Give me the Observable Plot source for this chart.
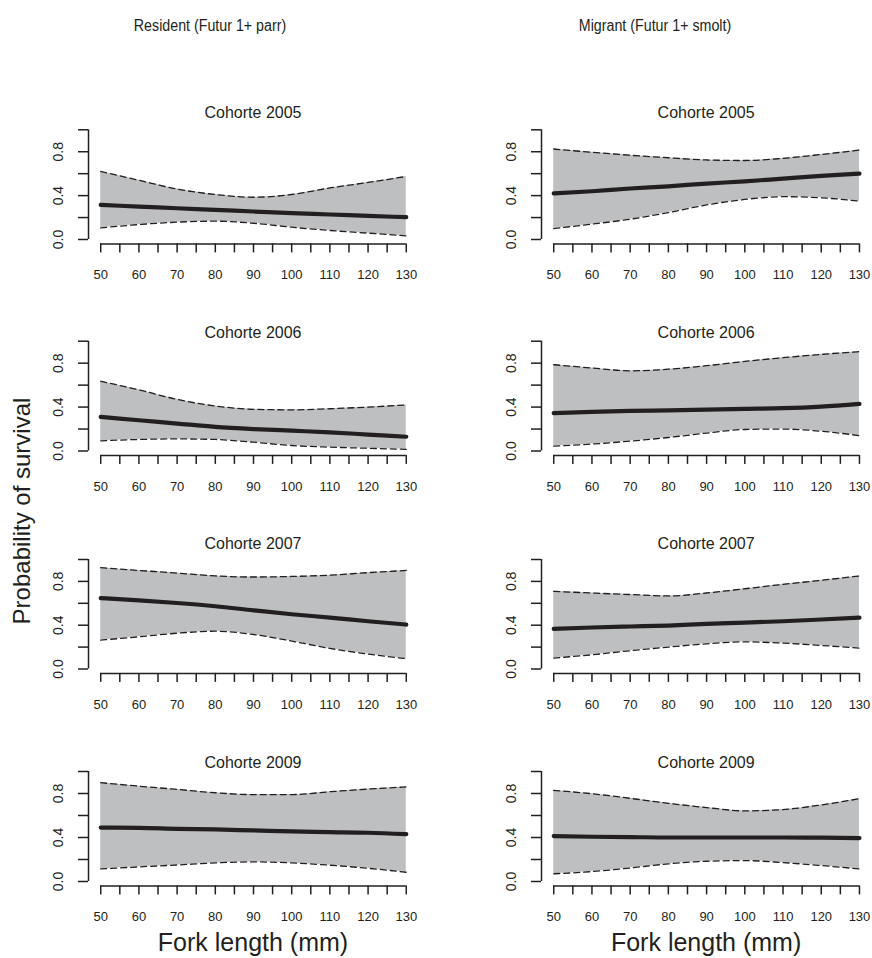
<!DOCTYPE html>
<html><head><meta charset="utf-8">
<script src="https://cdn.jsdelivr.net/npm/d3@7"></script>
<script src="https://cdn.jsdelivr.net/npm/@observablehq/plot@0.6"></script>
<style>
body{margin:0;background:#fff;}
#fig{position:relative;width:872px;height:958px;font-family:"Liberation Sans",Arial,Helvetica,sans-serif;color:#231f20;overflow:hidden;background:#fff}
.lbl{position:absolute;white-space:nowrap;transform:translate(-50%,-50%);line-height:1}
</style></head><body><div id="fig"></div>
<script>
// ---------- data ----------
const forkLength = [50, 60, 70, 80, 90, 100, 110, 120, 130];
const cohorts = ["2005", "2006", "2007", "2009"];
const groupTitles = ["Resident (Futur 1+ parr)", "Migrant (Futur 1+ smolt)"];
const xTicks = [50, 55, 60, 65, 70, 75, 80, 85, 90, 95, 100, 105, 110, 115, 120, 125, 130];
const xTickLabels = [50, 60, 70, 80, 90, 100, 110, 120, 130];
const yTicks = [0, 0.2, 0.4, 0.6, 0.8, 1.0];
const yLabelValues = [0, 0.4, 0.8];
const yTickLabels = ["0.0", "0.4", "0.8"];
const xAxisTitle = "Fork length (mm)";
const yAxisTitle = "Probability of survival";

const resident2005Upper = [0.62, 0.54, 0.46, 0.41, 0.385, 0.41, 0.47, 0.52, 0.575];
const resident2005Mean  = [0.315, 0.30, 0.285, 0.27, 0.255, 0.24, 0.228, 0.215, 0.203];
const resident2005Lower = [0.106, 0.136, 0.158, 0.167, 0.148, 0.112, 0.082, 0.058, 0.033];

const migrant2005Upper = [0.825, 0.795, 0.768, 0.745, 0.725, 0.72, 0.74, 0.775, 0.815];
const migrant2005Mean  = [0.42, 0.44, 0.465, 0.485, 0.51, 0.53, 0.555, 0.58, 0.60];
const migrant2005Lower = [0.10, 0.14, 0.185, 0.245, 0.315, 0.365, 0.39, 0.38, 0.35];

const resident2006Upper = [0.635, 0.557, 0.47, 0.41, 0.38, 0.375, 0.385, 0.40, 0.42];
const resident2006Mean  = [0.31, 0.28, 0.25, 0.22, 0.20, 0.185, 0.17, 0.15, 0.13];
const resident2006Lower = [0.093, 0.105, 0.11, 0.105, 0.08, 0.05, 0.035, 0.025, 0.015];

const migrant2006Upper = [0.786, 0.756, 0.73, 0.745, 0.777, 0.816, 0.85, 0.88, 0.905];
const migrant2006Mean  = [0.345, 0.357, 0.365, 0.37, 0.376, 0.383, 0.39, 0.405, 0.43];
const migrant2006Lower = [0.045, 0.063, 0.09, 0.123, 0.163, 0.196, 0.20, 0.18, 0.14];

const resident2007Upper = [0.925, 0.90, 0.876, 0.85, 0.84, 0.845, 0.857, 0.88, 0.90];
const resident2007Mean  = [0.648, 0.627, 0.603, 0.573, 0.536, 0.50, 0.47, 0.436, 0.406];
const resident2007Lower = [0.264, 0.294, 0.327, 0.345, 0.315, 0.255, 0.188, 0.136, 0.094];

const migrant2007Upper = [0.709, 0.694, 0.68, 0.667, 0.694, 0.733, 0.773, 0.81, 0.85];
const migrant2007Mean  = [0.367, 0.379, 0.388, 0.397, 0.412, 0.424, 0.436, 0.452, 0.47];
const migrant2007Lower = [0.10, 0.13, 0.167, 0.20, 0.23, 0.248, 0.236, 0.215, 0.19];

const resident2009Upper = [0.898, 0.867, 0.837, 0.807, 0.79, 0.79, 0.816, 0.84, 0.86];
const resident2009Mean  = [0.49, 0.488, 0.479, 0.473, 0.464, 0.455, 0.449, 0.443, 0.43];
const resident2009Lower = [0.114, 0.133, 0.15, 0.169, 0.178, 0.169, 0.148, 0.12, 0.084];

const migrant2009Upper = [0.828, 0.798, 0.756, 0.711, 0.672, 0.642, 0.654, 0.696, 0.753];
const migrant2009Mean  = [0.413, 0.407, 0.404, 0.40, 0.40, 0.40, 0.40, 0.398, 0.395];
const migrant2009Lower = [0.07, 0.09, 0.123, 0.16, 0.184, 0.19, 0.172, 0.145, 0.114];

const series = [
  [[resident2005Lower, resident2005Mean, resident2005Upper], [migrant2005Lower, migrant2005Mean, migrant2005Upper]],
  [[resident2006Lower, resident2006Mean, resident2006Upper], [migrant2006Lower, migrant2006Mean, migrant2006Upper]],
  [[resident2007Lower, resident2007Mean, resident2007Upper], [migrant2007Lower, migrant2007Mean, migrant2007Upper]],
  [[resident2009Lower, resident2009Mean, resident2009Upper], [migrant2009Lower, migrant2009Mean, migrant2009Upper]]
];

// ---------- layout (pixels) ----------
const rowZeroY = [239, 450.5, 668.5, 881];
const rowOneY = [129.3, 340.7, 559, 771];
const rowTitleY = [113, 333, 544, 763];
const colLeft = [0, 436];
const colMarginLeft = [88, 105];
const colMarginRight = [18, 0.8];
const panelWidth = 436;
const xDomain = [46.8, 133.2];
const yDomain = [-0.04, 1.04];
const ink = "#231f20";
const band = "#bebfc1";

const fig = document.getElementById("fig");

function addLabel(text, cx, cy, size, transformExtra) {
  const d = document.createElement("div");
  d.className = "lbl";
  d.textContent = text;
  d.style.left = cx + "px";
  d.style.top = cy + "px";
  d.style.fontSize = size + "px";
  if (transformExtra) d.style.transform = "translate(-50%,-50%) " + transformExtra;
  fig.appendChild(d);
}

for (let r = 0; r < cohorts.length; r++) {
  for (let c = 0; c < 2; c++) {
    const [lower, mean, upper] = series[r][c];
    const rows = forkLength.map((x, i) => ({x, lower: lower[i], mean: mean[i], upper: upper[i]}));
    const y0 = rowZeroY[r], y1 = rowOneY[r];
    const pad = 0.04 * (y0 - y1);
    const frameTop = y1 - pad, frameBottom = y0 + pad;
    const T = Math.floor(frameTop - 8);
    const mt = frameTop - T;
    const mb = 46;
    const height = frameBottom - T + mb;
    const ml = colMarginLeft[c], mr = colMarginRight[c];
    const plot = Plot.plot({
      width: panelWidth,
      height,
      marginTop: mt,
      marginBottom: mb,
      marginLeft: ml,
      marginRight: mr,
      style: {fontFamily: '"Liberation Sans", Arial, sans-serif', fontSize: "13px", color: ink, background: "transparent", overflow: "visible"},
      x: {domain: xDomain},
      y: {domain: yDomain},
      marks: [
        Plot.areaY(rows, {x: "x", y1: "lower", y2: "upper", fill: band, curve: "monotone-x"}),
        Plot.line(rows, {x: "x", y: "upper", stroke: ink, strokeWidth: 1.3, strokeDasharray: "6,4", curve: "monotone-x"}),
        Plot.line(rows, {x: "x", y: "lower", stroke: ink, strokeWidth: 1.3, strokeDasharray: "6,4", curve: "monotone-x"}),
        Plot.line(rows, {x: "x", y: "mean", stroke: ink, strokeWidth: 4.2, curve: "monotone-x"}),
        Plot.ruleX([xDomain[0]], {y1: 0, y2: 1, stroke: ink, strokeWidth: 1.5}),
        Plot.axisY(yTicks, {anchor: "left", tickSize: 10, tickFormat: () => "", label: null, stroke: ink, strokeWidth: 1.5}),
        Plot.text(yLabelValues, {frameAnchor: "left", y: d => d, text: (d, i) => yTickLabels[i], dx: -30, rotate: -90, textAnchor: "middle", lineAnchor: "middle", fontSize: 14, fill: ink}),
        Plot.ruleY([yDomain[0]], {x1: xTicks[0], x2: xTicks[xTicks.length - 1], stroke: ink, strokeWidth: 1.5}),
        Plot.axisX(xTicks, {anchor: "bottom", tickSize: 9, tickPadding: 17, tickFormat: d => xTickLabels.includes(d) ? String(d) : "", label: null, stroke: ink, strokeWidth: 1.5, fontSize: 13})
      ]
    });
    plot.style.position = "absolute";
    plot.style.left = colLeft[c] + "px";
    plot.style.top = T + "px";
    fig.appendChild(plot);
    const cx = colLeft[c] + ml + (panelWidth - ml - mr) / 2;
    addLabel("Cohorte " + cohorts[r], cx, rowTitleY[r], 16);
    if (r === cohorts.length - 1) addLabel(xAxisTitle, cx, 942, 25);
  }
}
addLabel(groupTitles[0], 210, 26, 16, "scaleX(0.89)");
addLabel(groupTitles[1], 655, 26, 16, "scaleX(0.89)");
addLabel(yAxisTitle, 22, 511, 24, "rotate(-90deg)");
</script>
</body></html>
